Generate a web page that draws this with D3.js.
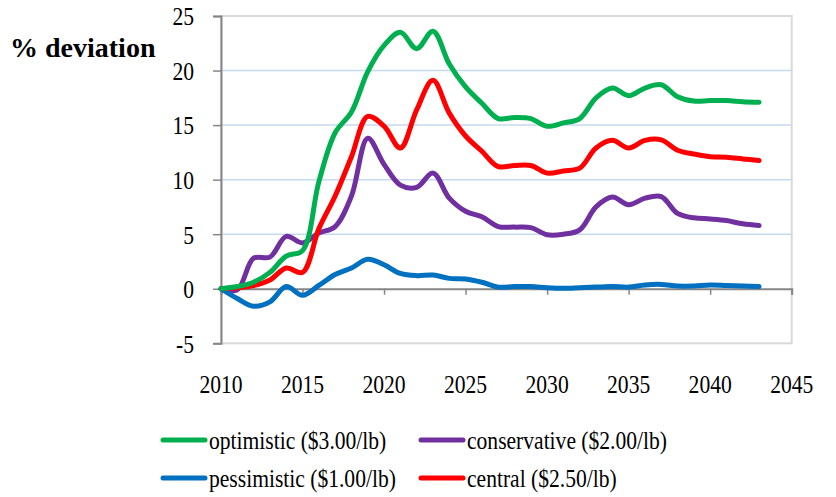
<!DOCTYPE html>
<html>
<head>
<meta charset="utf-8">
<script src="https://cdn.jsdelivr.net/npm/d3@7"></script>
<style>
  body { margin: 0; background: #fff; }
  text { font-family: "Liberation Serif", serif; fill: #000; }
</style>
</head>
<body>
<div id="chart"></div>
<script>
var years = d3.range(2010, 2044);

var optimistic = [0, 0.2, 0.6, 1.5, 3.0, 3.5, 9.8, 14.3, 16.2, 19.9, 22.3, 23.5, 22.0, 23.6, 20.6,
  18.5, 17.0, 15.6, 15.7, 15.6, 14.9, 15.2, 15.6, 17.5, 18.4, 17.7, 18.4, 18.7, 17.6, 17.2,
  17.25, 17.25, 17.15, 17.1];
var conservative = [0, -0.1, 2.8, 2.9, 4.8, 4.2, 5.1, 5.7, 8.5, 13.8, 11.4, 9.5, 9.3, 10.6, 8.3,
  7.1, 6.6, 5.7, 5.65, 5.6, 4.95, 5.0, 5.4, 7.5, 8.4, 7.7, 8.3, 8.45, 6.9, 6.5,
  6.4, 6.25, 5.95, 5.8];
var pessimistic = [0, -0.9, -1.6, -1.2, 0.2, -0.6, 0.3, 1.3, 1.9, 2.7, 2.2, 1.4, 1.2, 1.25, 0.95,
  0.9, 0.6, 0.15, 0.2, 0.2, 0.1, 0.05, 0.1, 0.15, 0.2, 0.15, 0.35, 0.4, 0.25, 0.25,
  0.35, 0.3, 0.25, 0.2];
var central = [0, 0.1, 0.3, 0.8, 1.9, 1.5, 5.5, 8.5, 12.1, 15.8, 14.9, 12.9, 16.4, 19.1, 16.1,
  14.0, 12.6, 11.2, 11.3, 11.3, 10.6, 10.8, 11.05, 12.9, 13.6, 12.9, 13.6, 13.65, 12.7, 12.35,
  12.1, 12.05, 11.9, 11.75];

var xTicks = [2010, 2015, 2020, 2025, 2030, 2035, 2040, 2045];
var yTicks = [-5, 0, 5, 10, 15, 20, 25];
var gridTicks = [5, 10, 15, 20];

var series = [
  {name: "optimistic ($3.00/lb)", values: optimistic, color: "#00b050"},
  {name: "conservative ($2.00/lb)", values: conservative, color: "#7030a0"},
  {name: "pessimistic ($1.00/lb)", values: pessimistic, color: "#0070c0"},
  {name: "central ($2.50/lb)", values: central, color: "#ff0000"}
];
// draw order: red above purple, green on top near the start
var drawOrder = [1, 2, 3, 0];

var width = 836, height = 497,
  plot = {left: 221, right: 791.7, top: 16, bottom: 343.3},
  squeeze = 0.83;

var svg = d3.select("#chart").append("svg")
  .attr("width", width)
  .attr("height", height);

var x = d3.scaleLinear().domain([2010, 2045]).range([plot.left, plot.right]);
var y = d3.scaleLinear().domain([-5, 25]).range([plot.bottom, plot.top]);

// plot frame
svg.append("rect")
  .attr("x", plot.left)
  .attr("y", plot.top)
  .attr("width", plot.right - plot.left)
  .attr("height", plot.bottom - plot.top)
  .attr("fill", "none")
  .attr("stroke", "#d9d9d9")
  .attr("stroke-width", 2);

// gridlines
svg.append("g")
  .selectAll("line")
  .data(gridTicks)
  .join("line")
  .attr("x1", plot.left)
  .attr("x2", plot.right)
  .attr("y1", d => y(d))
  .attr("y2", d => y(d))
  .attr("stroke", "#c6d9f1")
  .attr("stroke-width", 1.5);

// y axis (plain hyphen for the minus sign)
var yAxis = d3.axisLeft(y).tickValues(yTicks).tickSize(8).tickPadding(4)
  .tickFormat(d => String(d));
svg.append("g")
  .attr("transform", "translate(" + plot.left + ",0)")
  .call(yAxis)
  .call(g => g.select(".domain").attr("stroke", "#868686").attr("stroke-width", 2))
  .call(g => g.selectAll(".tick line").attr("stroke", "#868686").attr("stroke-width", 1.5))
  .call(g => g.selectAll(".tick text")
    .attr("font-size", 26)
    .attr("x", -27 / squeeze)
    .attr("dy", "0.34em")
    .attr("transform", "scale(" + squeeze + ",1)"));

// x axis drawn on the zero line
var xAxis = d3.axisBottom(x).tickValues(xTicks).tickSize(6).tickFormat(d3.format("d"));
svg.append("g")
  .attr("transform", "translate(0," + y(0) + ")")
  .call(xAxis)
  .call(g => g.select(".domain").attr("stroke", "#868686").attr("stroke-width", 2))
  .call(g => g.selectAll(".tick line").attr("stroke", "#868686").attr("stroke-width", 1.5))
  .call(g => g.selectAll(".tick text").remove());

// x tick labels sit below the plot
svg.append("g")
  .selectAll("text")
  .data(xTicks)
  .join("text")
  .attr("transform", d => "translate(" + x(d) + ",393) scale(" + squeeze + ",1)")
  .attr("text-anchor", "middle")
  .attr("font-size", 26)
  .text(d => d);

// lines
var line = d3.line()
  .x((d, i) => x(years[i]))
  .y(d => y(d))
  .curve(d3.curveCatmullRom.alpha(0.5));

svg.append("g")
  .selectAll("path")
  .data(drawOrder.map(i => series[i]))
  .join("path")
  .attr("d", d => line(d.values))
  .attr("fill", "none")
  .attr("stroke", d => d.color)
  .attr("stroke-width", 5)
  .attr("stroke-linecap", "round")
  .attr("stroke-linejoin", "round");

// y title
svg.append("text")
  .attr("x", 10)
  .attr("y", 57)
  .attr("font-weight", "bold")
  .attr("font-size", 28)
  .text("% deviation");

// legend
var legendPos = [[163, 440], [421, 440], [163, 478], [421, 478]];
var legend = svg.append("g")
  .selectAll("g")
  .data(series)
  .join("g")
  .attr("transform", (d, i) => "translate(" + legendPos[i][0] + "," + legendPos[i][1] + ")");

legend.append("line")
  .attr("x1", 0)
  .attr("x2", 42)
  .attr("stroke", d => d.color)
  .attr("stroke-width", 5)
  .attr("stroke-linecap", "round");

legend.append("text")
  .attr("transform", "translate(46,9) scale(" + squeeze + ",1)")
  .attr("font-size", 26)
  .text(d => d.name);
</script>
</body>
</html>
